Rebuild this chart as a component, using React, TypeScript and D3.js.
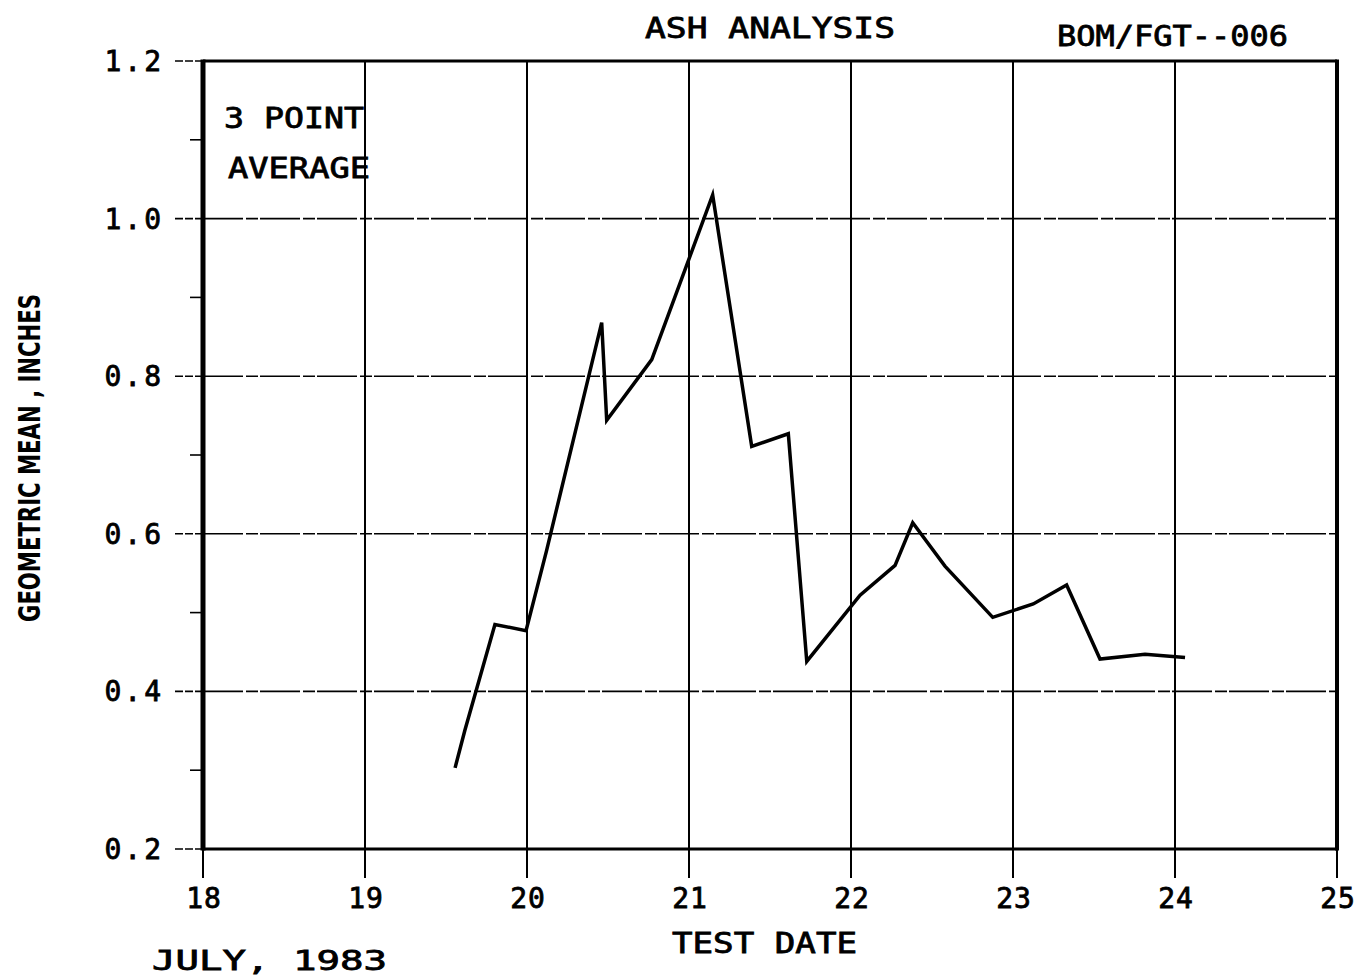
import React, { useEffect, useRef } from 'react';
import * as d3 from 'd3';

// test dates (day of July 1983) and 3-point average geometric mean, inches
const testDates = [19.556, 19.617, 19.802, 19.994, 20.12, 20.461, 20.492, 20.77, 21.146, 21.387, 21.613, 21.727, 22.056, 22.272, 22.381, 22.58, 22.875, 23.125, 23.331, 23.537, 23.815, 24.062];
const geoMeans = [0.303, 0.351, 0.485, 0.477, 0.578, 0.868, 0.744, 0.821, 1.03, 0.711, 0.727, 0.438, 0.522, 0.56, 0.614, 0.559, 0.494, 0.511, 0.535, 0.441, 0.447, 0.443];

const xTicks = [18, 19, 20, 21, 22, 23, 24, 25];
const yTicks = [0.2, 0.4, 0.6, 0.8, 1.0, 1.2];
const yMinorTicks = [0.3, 0.5, 0.7, 0.9, 1.1];

const title = 'ASH ANALYSIS';
const reportId = 'BOM/FGT--006';
const noteLines = ['3 POINT', 'AVERAGE'];
const xTitle = 'TEST DATE';
const yTitle = 'GEOMETRIC MEAN , INCHES';
const monthLabel = 'JULY, 1983';

const W = 1358, H = 979;
const margin = { top: 61, right: 21, bottom: 130, left: 203 };
const FONT = '"DejaVu Sans Mono", monospace';

export default function App() {
  const ref = useRef<SVGSVGElement>(null);

  useEffect(() => {
    const svg = d3.select(ref.current);
    svg.selectAll('*').remove();

    const width = W - margin.left - margin.right;
    const height = H - margin.top - margin.bottom;

    const x = d3.scaleLinear().domain([18, 25]).range([margin.left, margin.left + width]);
    const y = d3.scaleLinear().domain([0.2, 1.2]).range([margin.top + height, margin.top]);

    const g = svg.append('g');

    // grid
    g.selectAll('.vgrid')
      .data(xTicks.slice(1, -1))
      .enter().append('line')
      .attr('x1', (d) => x(d)).attr('x2', (d) => x(d))
      .attr('y1', y(1.2)).attr('y2', y(0.2))
      .attr('stroke', '#000').attr('stroke-width', 2);

    g.selectAll('.hgrid')
      .data(yTicks.slice(1, -1))
      .enter().append('line')
      .attr('x1', x(18)).attr('x2', x(25))
      .attr('y1', (d) => y(d)).attr('y2', (d) => y(d))
      .attr('stroke', '#000').attr('stroke-width', 1.6)
      .attr('stroke-dasharray', '40 3 12 2');

    // y ticks
    g.selectAll('.ymajor')
      .data(yTicks)
      .enter().append('line')
      .attr('x1', x(18) - 28).attr('x2', x(18))
      .attr('y1', (d) => y(d)).attr('y2', (d) => y(d))
      .attr('stroke', '#000').attr('stroke-width', 1.6)
      .attr('stroke-dasharray', '8 2');

    g.selectAll('.yminor')
      .data(yMinorTicks)
      .enter().append('line')
      .attr('x1', x(18) - 13).attr('x2', x(18))
      .attr('y1', (d) => y(d)).attr('y2', (d) => y(d))
      .attr('stroke', '#000').attr('stroke-width', 1.6);

    // x ticks
    g.selectAll('.xtick')
      .data(xTicks)
      .enter().append('line')
      .attr('x1', (d) => x(d)).attr('x2', (d) => x(d))
      .attr('y1', y(0.2)).attr('y2', y(0.2) + 29)
      .attr('stroke', '#000').attr('stroke-width', 2);

    // frame
    g.append('line')
      .attr('x1', x(18)).attr('x2', x(25)).attr('y1', y(1.2)).attr('y2', y(1.2))
      .attr('stroke', '#000').attr('stroke-width', 3);
    g.append('line')
      .attr('x1', x(18)).attr('x2', x(25)).attr('y1', y(0.2)).attr('y2', y(0.2))
      .attr('stroke', '#000').attr('stroke-width', 3);
    g.append('line')
      .attr('x1', x(25)).attr('x2', x(25)).attr('y1', y(1.2) - 1.5).attr('y2', y(0.2) + 1.5)
      .attr('stroke', '#000').attr('stroke-width', 4);
    g.append('line')
      .attr('x1', x(18)).attr('x2', x(18)).attr('y1', y(1.2) - 1.5).attr('y2', y(0.2) + 1.5)
      .attr('stroke', '#000').attr('stroke-width', 5);

    // tick labels
    g.selectAll('.ylabel')
      .data(yTicks)
      .enter().append('text')
      .attr('x', 164).attr('y', (d) => y(d) + 10)
      .attr('text-anchor', 'end')
      .attr('font-family', FONT).attr('font-size', 28)
      .attr('stroke', '#000').attr('stroke-width', 0.8)
      .attr('letter-spacing', 3)
      .text((d) => d.toFixed(1));

    g.selectAll('.xlabel')
      .data(xTicks)
      .enter().append('text')
      .attr('x', (d) => x(d) + 1).attr('y', y(0.2) + 59)
      .attr('text-anchor', 'middle')
      .attr('font-family', FONT).attr('font-size', 28)
      .attr('stroke', '#000').attr('stroke-width', 0.8)
      .attr('letter-spacing', 1)
      .text((d) => String(d));

    // texts
    const addText = (s: string, tx: number, ty: number, len: number, size = 28) =>
      g.append('text')
        .attr('x', tx).attr('y', ty)
        .attr('font-family', FONT).attr('font-size', size)
        .attr('stroke', '#000').attr('stroke-width', 0.8)
        .attr('textLength', len).attr('lengthAdjust', 'spacingAndGlyphs')
        .text(s);

    addText(title, 645, 38, 250);
    addText(reportId, 1057, 46, 231);
    addText(noteLines[0], 224, 128, 140);
    addText(noteLines[1], 228, 178, 142);
    addText(xTitle, 672, 953, 185);
    addText(monthLabel, 152, 970, 235, 27);

    g.append('text')
      .attr('transform', 'translate(40,458) rotate(-90)')
      .attr('text-anchor', 'middle')
      .attr('font-family', '"DejaVu Sans Condensed", "DejaVu Sans", sans-serif')
      .attr('font-size', 30).attr('font-weight', 'bold')
      .attr('textLength', 328).attr('lengthAdjust', 'spacingAndGlyphs')
      .text(yTitle);

    // data line
    const pts = testDates.map((d, i) => [d, geoMeans[i]] as [number, number]);
    const line = d3.line<[number, number]>()
      .x((d) => x(d[0]))
      .y((d) => y(d[1]));

    g.append('path')
      .datum(pts)
      .attr('d', line)
      .attr('fill', 'none')
      .attr('stroke', '#000')
      .attr('stroke-width', 3.5)
      .attr('stroke-linejoin', 'miter');
  }, []);

  return (
    <svg
      ref={ref}
      width={W}
      height={H}
      style={{ position: 'absolute', left: 0, top: 0, background: '#fff' }}
    />
  );
}
